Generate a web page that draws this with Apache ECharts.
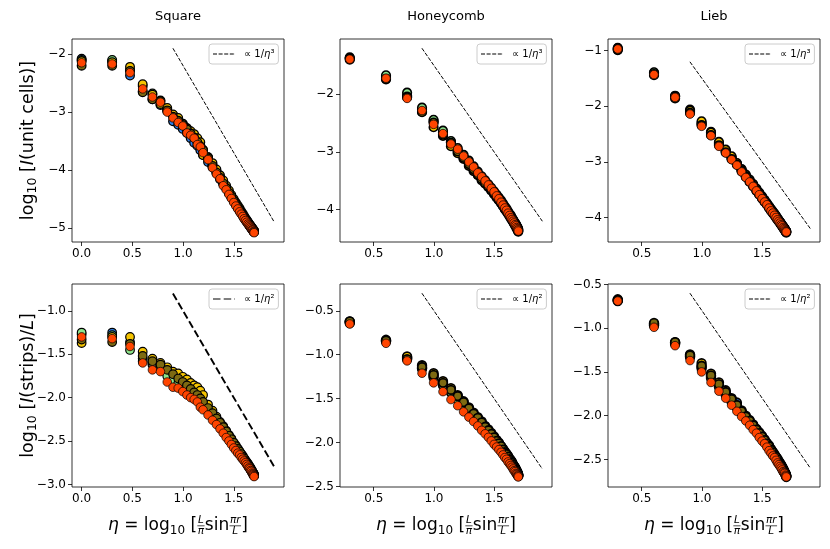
<!DOCTYPE html>
<html><head><meta charset="utf-8">
<script src="https://cdn.jsdelivr.net/npm/echarts@6/dist/echarts.min.js"></script>
<style>html,body{margin:0;padding:0;background:#fff}#c{width:830px;height:549px}</style>
</head><body><div id="c"></div>
<script>
// ---------------- data ----------------
const panelTitles = ['Square', 'Honeycomb', 'Lieb'];
const xAll = [0.000,0.301,0.477,0.602,0.698,0.777,0.844,0.901,0.952,0.997,1.038,1.075,1.109,1.141,1.170,1.197,1.246,1.290,1.329,1.364,1.396,1.425,1.452,1.476,1.499,1.520,1.539,1.557,1.573,1.588,1.602,1.615,1.627,1.638,1.648,1.657,1.665,1.673,1.680,1.686,1.692,1.697,1.700];
const xEven = [0.301,0.602,0.777,0.901,0.997,1.075,1.141,1.197,1.246,1.290,1.329,1.364,1.396,1.425,1.452,1.476,1.499,1.520,1.539,1.557,1.573,1.588,1.602,1.615,1.627,1.638,1.648,1.657,1.665,1.673,1.680,1.686,1.692,1.697,1.700];
const seriesNames = ['s1','s2','s3','s4','s5'];
const seriesColors = ['#2f80e8','#8de68d','#f5c400','#7d6a12','#ff4500'];

// Square, top (I of unit cells)
const sqT_blue  = [-2.08,-2.12,-2.37,-2.64,-2.78,-2.88,-2.98,-3.16,-3.22,-3.29,-3.36,-3.45,-3.53,-3.58,-3.66,-3.74,-3.86,-3.95,-4.05,-4.16,-4.24,-4.31,-4.40,-4.47,-4.53,-4.59,-4.65,-4.70,-4.74,-4.78,-4.82,-4.86,-4.89,-4.91,-4.94,-4.96,-4.98,-5.00,-5.01,-5.03,-5.04,-5.05,-5.06];
const sqT_green = [-2.10,-2.10,-2.27,-2.55,-2.68,-2.80,-2.95,-3.05,-3.12,-3.20,-3.28,-3.35,-3.42,-3.50,-3.57,-3.65,-3.78,-3.91,-4.02,-4.12,-4.21,-4.30,-4.38,-4.45,-4.52,-4.58,-4.63,-4.68,-4.73,-4.77,-4.81,-4.84,-4.87,-4.90,-4.93,-4.95,-4.97,-4.99,-5.00,-5.02,-5.03,-5.04,-5.05];
const sqT_gold  = [-2.12,-2.14,-2.22,-2.52,-2.70,-2.86,-2.93,-3.04,-3.10,-3.20,-3.28,-3.33,-3.38,-3.45,-3.52,-3.74,-3.78,-3.88,-3.99,-4.09,-4.18,-4.27,-4.35,-4.43,-4.50,-4.56,-4.61,-4.66,-4.71,-4.75,-4.79,-4.83,-4.86,-4.89,-4.92,-4.94,-4.96,-4.98,-5.00,-5.01,-5.03,-5.04,-5.05];
const sqT_olive = [-2.20,-2.20,-2.29,-2.66,-2.78,-2.81,-2.97,-3.08,-3.15,-3.22,-3.30,-3.37,-3.44,-3.52,-3.59,-3.66,-3.80,-3.93,-4.04,-4.13,-4.23,-4.31,-4.39,-4.46,-4.53,-4.59,-4.64,-4.69,-4.74,-4.78,-4.82,-4.85,-4.88,-4.91,-4.94,-4.96,-4.98,-5.00,-5.02,-5.03,-5.05,-5.06,-5.07];
const sqT_orange= [-2.15,-2.17,-2.32,-2.60,-2.74,-2.83,-3.00,-3.10,-3.18,-3.24,-3.36,-3.40,-3.45,-3.56,-3.60,-3.70,-3.82,-3.96,-4.07,-4.15,-4.27,-4.34,-4.42,-4.49,-4.56,-4.62,-4.67,-4.72,-4.76,-4.80,-4.84,-4.87,-4.90,-4.93,-4.95,-4.97,-4.99,-5.01,-5.03,-5.04,-5.06,-5.07,-5.08];

// Honeycomb, top
const hcT_blue  = [-1.37,-1.70,-2.02,-2.26,-2.47,-2.66,-2.83,-2.97,-3.09,-3.19,-3.29,-3.38,-3.46,-3.53,-3.59,-3.65,-3.71,-3.77,-3.82,-3.87,-3.92,-3.96,-4.00,-4.04,-4.08,-4.12,-4.15,-4.18,-4.21,-4.24,-4.26,-4.28,-4.31,-4.33,-4.35];
const hcT_green = [-1.36,-1.67,-1.97,-2.23,-2.44,-2.63,-2.81,-2.93,-3.05,-3.15,-3.25,-3.34,-3.42,-3.49,-3.56,-3.62,-3.68,-3.74,-3.79,-3.84,-3.89,-3.94,-3.98,-4.03,-4.07,-4.10,-4.14,-4.17,-4.20,-4.23,-4.25,-4.28,-4.30,-4.32,-4.34];
const hcT_gold  = [-1.40,-1.73,-2.04,-2.30,-2.57,-2.72,-2.90,-3.02,-3.12,-3.24,-3.33,-3.40,-3.49,-3.55,-3.61,-3.67,-3.73,-3.79,-3.84,-3.89,-3.94,-3.99,-4.03,-4.07,-4.11,-4.15,-4.18,-4.21,-4.24,-4.27,-4.29,-4.32,-4.34,-4.36,-4.38];
const hcT_olive = [-1.38,-1.74,-2.05,-2.31,-2.49,-2.70,-2.84,-2.99,-3.10,-3.21,-3.30,-3.39,-3.47,-3.54,-3.60,-3.66,-3.72,-3.78,-3.83,-3.88,-3.93,-3.98,-4.02,-4.06,-4.10,-4.13,-4.17,-4.20,-4.23,-4.25,-4.28,-4.30,-4.33,-4.35,-4.37];
const hcT_orange= [-1.39,-1.72,-2.07,-2.28,-2.52,-2.68,-2.86,-2.95,-3.07,-3.17,-3.26,-3.36,-3.43,-3.50,-3.57,-3.63,-3.69,-3.76,-3.81,-3.87,-3.92,-3.97,-4.01,-4.06,-4.10,-4.14,-4.17,-4.20,-4.23,-4.26,-4.28,-4.31,-4.33,-4.35,-4.37];

// Lieb, top
const lbT_blue  = [-0.95,-1.40,-1.82,-2.10,-2.32,-2.50,-2.68,-2.81,-2.93,-3.04,-3.14,-3.24,-3.33,-3.41,-3.49,-3.56,-3.63,-3.69,-3.75,-3.80,-3.85,-3.90,-3.94,-3.98,-4.02,-4.05,-4.08,-4.11,-4.14,-4.16,-4.18,-4.20,-4.22,-4.24,-4.25];
const lbT_green = [-0.96,-1.39,-1.81,-2.06,-2.30,-2.46,-2.66,-2.79,-2.92,-3.03,-3.13,-3.23,-3.32,-3.40,-3.48,-3.55,-3.62,-3.68,-3.74,-3.80,-3.85,-3.89,-3.93,-3.97,-4.01,-4.05,-4.08,-4.11,-4.13,-4.16,-4.18,-4.20,-4.22,-4.24,-4.25];
const lbT_gold  = [-0.98,-1.42,-1.83,-2.08,-2.27,-2.47,-2.64,-2.78,-2.90,-3.02,-3.15,-3.26,-3.35,-3.43,-3.51,-3.58,-3.65,-3.71,-3.76,-3.82,-3.87,-3.91,-3.95,-3.99,-4.03,-4.06,-4.09,-4.12,-4.15,-4.17,-4.19,-4.21,-4.23,-4.25,-4.26];
const lbT_olive = [-0.99,-1.44,-1.86,-2.12,-2.34,-2.52,-2.70,-2.83,-2.95,-3.05,-3.17,-3.27,-3.36,-3.44,-3.52,-3.59,-3.66,-3.72,-3.77,-3.83,-3.88,-3.92,-3.96,-4.00,-4.04,-4.07,-4.10,-4.13,-4.15,-4.18,-4.20,-4.22,-4.24,-4.26,-4.27];
const lbT_orange= [-0.97,-1.43,-1.84,-2.14,-2.36,-2.53,-2.72,-2.84,-2.96,-3.06,-3.18,-3.28,-3.36,-3.44,-3.52,-3.59,-3.66,-3.72,-3.77,-3.83,-3.88,-3.92,-3.96,-4.00,-4.04,-4.07,-4.10,-4.13,-4.15,-4.18,-4.20,-4.22,-4.24,-4.25,-4.26];

// Square, bottom (I of strips / L)
const sqB_blue  = [-1.27,-1.25,-1.36,-1.55,-1.62,-1.64,-1.72,-1.76,-1.82,-1.85,-1.88,-1.92,-1.96,-2.00,-2.03,-2.07,-2.14,-2.19,-2.25,-2.30,-2.35,-2.40,-2.45,-2.49,-2.53,-2.57,-2.60,-2.63,-2.66,-2.68,-2.71,-2.73,-2.75,-2.77,-2.79,-2.80,-2.82,-2.83,-2.85,-2.86,-2.87,-2.88,-2.89];
const sqB_green = [-1.25,-1.28,-1.45,-1.58,-1.60,-1.66,-1.75,-1.80,-1.84,-1.88,-1.91,-1.94,-1.98,-2.02,-2.05,-2.09,-2.16,-2.21,-2.27,-2.32,-2.37,-2.42,-2.46,-2.50,-2.55,-2.58,-2.61,-2.64,-2.67,-2.69,-2.72,-2.74,-2.76,-2.78,-2.80,-2.81,-2.83,-2.84,-2.86,-2.87,-2.88,-2.89,-2.90];
const sqB_gold  = [-1.37,-1.30,-1.30,-1.47,-1.55,-1.60,-1.65,-1.70,-1.72,-1.76,-1.79,-1.83,-1.86,-1.88,-1.92,-1.97,-2.08,-2.15,-2.22,-2.28,-2.33,-2.38,-2.43,-2.47,-2.52,-2.55,-2.59,-2.62,-2.65,-2.67,-2.70,-2.72,-2.74,-2.76,-2.78,-2.80,-2.81,-2.83,-2.84,-2.86,-2.87,-2.88,-2.89];
const sqB_olive = [-1.33,-1.36,-1.38,-1.52,-1.58,-1.62,-1.68,-1.73,-1.78,-1.82,-1.86,-1.90,-1.94,-1.97,-2.01,-2.05,-2.12,-2.18,-2.24,-2.29,-2.34,-2.39,-2.44,-2.48,-2.52,-2.56,-2.59,-2.62,-2.65,-2.68,-2.70,-2.73,-2.75,-2.77,-2.79,-2.80,-2.82,-2.84,-2.85,-2.86,-2.88,-2.89,-2.90];
const sqB_orange= [-1.30,-1.32,-1.41,-1.60,-1.68,-1.70,-1.82,-1.88,-1.89,-1.93,-1.97,-2.00,-2.02,-2.05,-2.11,-2.14,-2.20,-2.26,-2.31,-2.36,-2.41,-2.46,-2.50,-2.54,-2.58,-2.61,-2.64,-2.66,-2.69,-2.71,-2.73,-2.75,-2.77,-2.79,-2.81,-2.82,-2.84,-2.85,-2.87,-2.88,-2.89,-2.90,-2.91];

// Honeycomb, bottom
const hcB_blue  = [-0.63,-0.84,-1.03,-1.15,-1.24,-1.33,-1.41,-1.49,-1.56,-1.62,-1.68,-1.73,-1.78,-1.83,-1.87,-1.91,-1.95,-1.98,-2.02,-2.05,-2.08,-2.11,-2.14,-2.16,-2.19,-2.21,-2.23,-2.25,-2.27,-2.29,-2.31,-2.33,-2.34,-2.36,-2.37];
const hcB_green = [-0.64,-0.85,-1.04,-1.16,-1.26,-1.35,-1.43,-1.51,-1.58,-1.64,-1.70,-1.75,-1.80,-1.84,-1.88,-1.92,-1.96,-1.99,-2.03,-2.06,-2.09,-2.12,-2.15,-2.17,-2.20,-2.22,-2.24,-2.26,-2.28,-2.30,-2.32,-2.33,-2.35,-2.36,-2.38];
const hcB_gold  = [-0.62,-0.83,-1.02,-1.12,-1.21,-1.30,-1.38,-1.46,-1.53,-1.60,-1.66,-1.71,-1.76,-1.81,-1.85,-1.89,-1.93,-1.97,-2.00,-2.04,-2.07,-2.10,-2.13,-2.15,-2.18,-2.20,-2.22,-2.25,-2.27,-2.28,-2.30,-2.32,-2.34,-2.35,-2.37];
const hcB_olive = [-0.62,-0.84,-1.05,-1.14,-1.23,-1.32,-1.40,-1.47,-1.54,-1.61,-1.67,-1.72,-1.77,-1.82,-1.86,-1.90,-1.94,-1.98,-2.01,-2.04,-2.08,-2.11,-2.13,-2.16,-2.19,-2.21,-2.23,-2.25,-2.27,-2.29,-2.31,-2.32,-2.34,-2.36,-2.37];
const hcB_orange= [-0.65,-0.87,-1.07,-1.21,-1.32,-1.42,-1.51,-1.58,-1.65,-1.71,-1.76,-1.81,-1.86,-1.90,-1.94,-1.98,-2.02,-2.05,-2.08,-2.11,-2.14,-2.17,-2.19,-2.22,-2.24,-2.26,-2.28,-2.30,-2.32,-2.33,-2.35,-2.36,-2.37,-2.38,-2.39];

// Lieb, bottom
const lbB_blue  = [-0.68,-0.96,-1.17,-1.32,-1.44,-1.55,-1.65,-1.74,-1.82,-1.85,-1.96,-2.02,-2.07,-2.12,-2.16,-2.21,-2.25,-2.29,-2.32,-2.36,-2.39,-2.42,-2.45,-2.48,-2.51,-2.53,-2.55,-2.57,-2.59,-2.61,-2.63,-2.65,-2.66,-2.68,-2.69];
const lbB_green = [-0.69,-0.97,-1.18,-1.33,-1.46,-1.57,-1.67,-1.76,-1.84,-1.91,-1.97,-2.03,-2.08,-2.13,-2.17,-2.22,-2.26,-2.30,-2.33,-2.37,-2.40,-2.43,-2.46,-2.49,-2.52,-2.54,-2.56,-2.58,-2.60,-2.62,-2.64,-2.65,-2.67,-2.68,-2.70];
const lbB_gold  = [-0.67,-0.95,-1.16,-1.30,-1.40,-1.52,-1.62,-1.71,-1.80,-1.88,-1.94,-2.00,-2.05,-2.10,-2.15,-2.19,-2.23,-2.27,-2.31,-2.34,-2.38,-2.41,-2.44,-2.47,-2.49,-2.52,-2.54,-2.56,-2.58,-2.60,-2.62,-2.64,-2.66,-2.67,-2.69];
const lbB_olive = [-0.68,-0.94,-1.16,-1.31,-1.43,-1.54,-1.64,-1.73,-1.81,-1.88,-1.95,-2.01,-2.06,-2.11,-2.16,-2.20,-2.24,-2.28,-2.32,-2.35,-2.39,-2.42,-2.45,-2.47,-2.50,-2.53,-2.55,-2.57,-2.59,-2.61,-2.63,-2.65,-2.66,-2.68,-2.69];
const lbB_orange= [-0.69,-0.99,-1.20,-1.37,-1.50,-1.62,-1.72,-1.80,-1.88,-1.95,-2.01,-2.06,-2.11,-2.16,-2.20,-2.25,-2.29,-2.32,-2.36,-2.40,-2.43,-2.46,-2.48,-2.51,-2.54,-2.56,-2.58,-2.60,-2.62,-2.64,-2.65,-2.66,-2.68,-2.69,-2.70];

// reference power-law lines
const lineX = [0.9, 1.9];
const sqT_line = [-1.9, -4.9];
const hcT_line = [-1.2, -4.2];
const lbT_line = [-1.2, -4.2];
const sqB_line = [-0.8, -2.8];
const hcB_line = [-0.3, -2.3];
const lbB_line = [-0.6, -2.6];

// tick labels
const xTicksSq = [0, 0.5, 1.0, 1.5];
const xTicksOther = [0.5, 1.0, 1.5];
const sqT_yt = [-5, -4, -3, -2];
const hcT_yt = [-4, -3, -2];
const lbT_yt = [-4, -3, -2, -1];
const sqB_yt = [-3.0, -2.5, -2.0, -1.5, -1.0];
const hcB_yt = [-2.5, -2.0, -1.5, -1.0, -0.5];
const lbB_yt = [-2.5, -2.0, -1.5, -1.0, -0.5];
const legendTop = '∝ 1/η³';
const legendBottom = '∝ 1/η²';

// ---------------- layout ----------------
const W = 212, H = 203;
const panels = [
  {pos:[72,39],  xs:xAll,  ys:[sqT_blue,sqT_green,sqT_gold,sqT_olive,sqT_orange], line:sqT_line, xr:[-0.095,1.995], yr:[-5.24,-1.74], xt:xTicksSq,    yt:sqT_yt, dec:0, leg:legendTop,    thick:false, bw:1.3},
  {pos:[340,39], xs:xEven, ys:[hcT_blue,hcT_green,hcT_gold,hcT_olive,hcT_orange], line:hcT_line, xr:[0.22,1.98],    yr:[-4.56,-1.04], xt:xTicksOther, yt:hcT_yt, dec:0, leg:legendTop,    thick:false, bw:1.6},
  {pos:[608,39], xs:xEven, ys:[lbT_blue,lbT_green,lbT_gold,lbT_olive,lbT_orange], line:lbT_line, xr:[0.22,1.98],    yr:[-4.44,-0.79], xt:xTicksOther, yt:lbT_yt, dec:0, leg:legendTop,    thick:false, bw:1.6},
  {pos:[72,284], xs:xAll,  ys:[sqB_blue,sqB_green,sqB_gold,sqB_olive,sqB_orange], line:sqB_line, xr:[-0.095,1.995], yr:[-3.03,-0.69], xt:xTicksSq,    yt:sqB_yt, dec:1, leg:legendBottom, thick:true,  bw:1.2},
  {pos:[340,284],xs:xEven, ys:[hcB_blue,hcB_green,hcB_gold,hcB_olive,hcB_orange], line:hcB_line, xr:[0.22,1.98],    yr:[-2.505,-0.195],xt:xTicksOther, yt:hcB_yt, dec:1, leg:legendBottom, thick:false, bw:1.8},
  {pos:[608,284],xs:xEven, ys:[lbB_blue,lbB_green,lbB_gold,lbB_olive,lbB_orange], line:lbB_line, xr:[0.22,1.98],    yr:[-2.815,-0.495],xt:xTicksOther, yt:lbB_yt, dec:1, leg:legendBottom, thick:false, bw:1.8}
];

const FONT = 'DejaVu Sans';
const fmt = (v, d) => (v < 0 ? '\u2212' : '') + Math.abs(v).toFixed(d);
const thinIcon  = 'path://M0,0h4v1h-4z M5.6,0h4v1h-4z M11.2,0h4v1h-4z M16.8,0h4v1h-4z M21.9,0h0.1v1h-0.1z';
const thickIcon = 'path://M0,0h7.5v1h-7.5z M10.7,0h7.5v1h-7.5z M21.4,0h0.6v1h-0.6z';

const grid = [], xAxis = [], yAxis = [], series = [], legend = [];
panels.forEach((p, i) => {
  grid.push({left:p.pos[0], top:p.pos[1], width:W, height:H, show:true, borderColor:'#000', borderWidth:0.8, backgroundColor:'#fff'});
  const common = {
    gridIndex:i, type:'value', scale:true,
    axisLine:{show:false, onZero:false},
    splitLine:{show:false}
  };
  xAxis.push(Object.assign({}, common, {
    min:p.xr[0], max:p.xr[1],
    axisTick:{show:true, inside:false, length:4, lineStyle:{color:'#000', width:0.8}, customValues:p.xt},
    axisLabel:{customValues:p.xt, formatter:v => fmt(v,1), fontSize:12, fontFamily:FONT, color:'#000', margin:6}
  }));
  yAxis.push(Object.assign({}, common, {
    min:p.yr[0], max:p.yr[1],
    axisTick:{show:true, inside:false, length:4, lineStyle:{color:'#000', width:0.8}, customValues:p.yt},
    axisLabel:{customValues:p.yt, formatter:v => fmt(v,p.dec), fontSize:12, fontFamily:FONT, color:'#000', margin:6}
  }));
  p.ys.forEach((ys, k) => {
    const isTop = k === p.ys.length - 1;
    series.push({
      type:'scatter', name:seriesNames[k], xAxisIndex:i, yAxisIndex:i,
      data:p.xs.map((x, j) => [x, ys[j]]),
      symbol:'circle', symbolSize:8.6,
      itemStyle:{color:seriesColors[k], borderColor:'#000', borderWidth:isTop ? 0.7 : p.bw, opacity:1},
      emphasis:{disabled:true}, silent:true, z:2+k
    });
  });
  series.push({
    type:'line', name:p.leg, xAxisIndex:i, yAxisIndex:i,
    data:lineX.map((x, j) => [x, p.line[j]]),
    symbol:'none', color:'#000',
    lineStyle:{color:'#000', width:p.thick ? 1.9 : 1, type:p.thick ? [7.5,3.2] : [4,1.6]},
    itemStyle:{color:'#000'}, silent:true, z:10
  });
  legend.push({
    show:true, left:p.pos[0] + W - 75, top:p.pos[1] + 5,
    data:[{name:p.leg, icon:p.thick ? thickIcon : thinIcon}],
    itemWidth:22, itemHeight:p.thick ? 2 : 1,
    backgroundColor:'rgba(255,255,255,0.8)', borderColor:'#cccccc', borderWidth:1, borderRadius:3,
    padding:[5,4,5,4], selectedMode:false,
    formatter:name => '{a|∝ 1/}{i|η}{a|' + name.slice(-1) + '}',
    textStyle:{padding:[0,0,0,4], rich:{
      a:{fontSize:10, fontFamily:FONT, color:'#000'},
      i:{fontSize:10, fontFamily:FONT, fontStyle:'italic', color:'#000'}
    }}
  });
});

// ---------------- text (titles, axis names with math) ----------------
const mctx = document.createElement('canvas').getContext('2d');
function tw(t, s, it) { mctx.font = (it ? 'italic ' : '') + s + 'px "' + FONT + '"'; return mctx.measureText(t).width; }
function txt(t, x, y, s, it, align) {
  return {type:'text', x:x, y:y, silent:true, style:{text:t, fontSize:s, fontFamily:FONT, fontStyle:it ? 'italic' : 'normal', fill:'#000', textAlign:align || 'left', verticalAlign:'middle', textVerticalAlign:'middle'}};
}
function mathLabel(pieces, cx, cy, rot) {
  let w = 0; const items = [];
  pieces.forEach(p => {
    if (p.frac) {
      const fw = Math.max(tw(p.frac[0], p.s, true), tw(p.frac[1], p.s, true)) + 1.5;
      items.push(txt(p.frac[0], w + fw / 2, -5.3, p.s, true, 'center'));
      items.push(txt(p.frac[1], w + fw / 2, 5.3, p.s, true, 'center'));
      items.push({type:'line', silent:true, shape:{x1:w + 0.3, y1:-0.2, x2:w + fw - 0.3, y2:-0.2}, style:{stroke:'#000', lineWidth:0.7}});
      w += fw;
    } else {
      items.push(txt(p.t, w, p.dy || 0, p.s, p.it));
      w += tw(p.t, p.s, p.it);
    }
  });
  items.forEach(it => {
    if (it.type === 'line') { it.shape.x1 -= w / 2; it.shape.x2 -= w / 2; } else { it.x -= w / 2; }
  });
  return {type:'group', x:cx, y:cy, rotation:rot || 0, children:items};
}
const xLabelPieces = [
  {t:'η', s:17, it:true}, {t:' = ', s:17}, {t:'log', s:17}, {t:'10', s:12, dy:4.5}, {t:' [', s:17},
  {frac:['L','π'], s:10.5}, {t:'sin', s:17}, {frac:['πr','L'], s:10.5}, {t:']', s:17}
];
const yLabelTop = [{t:'log', s:17.5}, {t:'10', s:12.5, dy:4.5}, {t:' [', s:17.5}, {t:'I', s:17.5, it:true}, {t:'(unit cells)]', s:17.5}];
const yLabelBottom = [{t:'log', s:17.5}, {t:'10', s:12.5, dy:4.5}, {t:' [', s:17.5}, {t:'I', s:17.5, it:true}, {t:'(strips)/', s:17.5}, {t:'L', s:17.5, it:true}, {t:']', s:17.5}];

const graphic = [];
panelTitles.forEach((t, i) => {
  graphic.push(txt(t, panels[i].pos[0] + W / 2, 17, 13, false, 'center'));
  graphic.push(mathLabel(xLabelPieces, panels[i + 3].pos[0] + W / 2, 526, 0));
});
graphic.push(mathLabel(yLabelTop, 28, 39 + H / 2, Math.PI / 2));
graphic.push(mathLabel(yLabelBottom, 28, 284 + H / 2, Math.PI / 2));

const chart = echarts.init(document.getElementById('c'), null, {renderer:'canvas'});
chart.setOption({
  animation:false, backgroundColor:'#fff',
  grid, xAxis, yAxis, series, legend, graphic
});
</script>
</body></html>
